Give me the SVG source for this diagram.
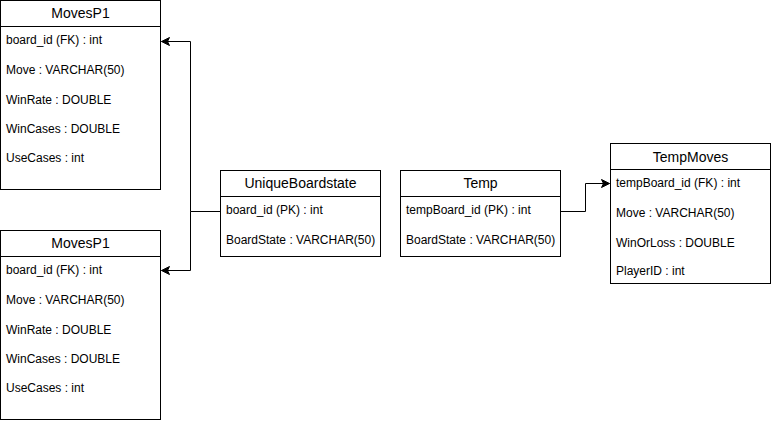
<svg xmlns="http://www.w3.org/2000/svg" width="771" height="424" viewBox="0 0 771 424">
<style>
.box{fill:#fff;stroke:#000;stroke-width:1}
.ln{stroke:#000;stroke-width:1;fill:none}
.h{font-family:"Liberation Sans",Arial,sans-serif;font-size:14px;text-anchor:middle;fill:#000}
.r{font-family:"Liberation Sans",Arial,sans-serif;font-size:12px;fill:#000}
</style>
<defs>
<marker id="arr" viewBox="0 0 10 10" refX="9" refY="5" markerWidth="10" markerHeight="10" markerUnits="userSpaceOnUse" orient="auto">
<path d="M1,1 L9,5 L1,9 L3,5 Z" fill="#000" stroke="#000" stroke-width="1"/>
</marker>
</defs>
<rect width="771" height="424" fill="#fff"/>
<g id="connectors">
<path class="ln" d="M220.5,211.5 H190.5 V41.5 H161.5" marker-end="url(#arr)"/>
<path class="ln" d="M190.5,211.5 V270.5 H161.5" marker-end="url(#arr)"/>
<path class="ln" d="M560.5,211.5 H585.5 V183.5 H609.5" marker-end="url(#arr)"/>
</g>
<g id="movesp1-top">
<rect class="box" x="0.5" y="0.5" width="160" height="189"/>
<line class="ln" x1="0.5" y1="26.5" x2="160.5" y2="26.5"/>
<text class="h" x="80.5" y="18">MovesP1</text>
<text class="r" x="6" y="44">board_id (FK) : int</text>
<text class="r" x="6" y="74">Move : VARCHAR(50)</text>
<text class="r" x="6" y="104">WinRate : DOUBLE</text>
<text class="r" x="6" y="133">WinCases : DOUBLE</text>
<text class="r" x="6" y="162">UseCases : int</text>
</g>
<g id="movesp1-bottom">
<rect class="box" x="0.5" y="230.5" width="160" height="189"/>
<line class="ln" x1="0.5" y1="256.5" x2="160.5" y2="256.5"/>
<text class="h" x="80.5" y="248">MovesP1</text>
<text class="r" x="6" y="274">board_id (FK) : int</text>
<text class="r" x="6" y="304">Move : VARCHAR(50)</text>
<text class="r" x="6" y="334">WinRate : DOUBLE</text>
<text class="r" x="6" y="363">WinCases : DOUBLE</text>
<text class="r" x="6" y="392">UseCases : int</text>
</g>
<g id="uniqueboardstate">
<rect class="box" x="220.5" y="170.5" width="160" height="86"/>
<line class="ln" x1="220.5" y1="196.5" x2="380.5" y2="196.5"/>
<text class="h" x="300.5" y="188">UniqueBoardstate</text>
<text class="r" x="226" y="214">board_id (PK) : int</text>
<text class="r" x="226" y="244">BoardState : VARCHAR(50)</text>
</g>
<g id="temp">
<rect class="box" x="400.5" y="170.5" width="160" height="86"/>
<line class="ln" x1="400.5" y1="196.5" x2="560.5" y2="196.5"/>
<text class="h" x="480.5" y="188">Temp</text>
<text class="r" x="406" y="214">tempBoard_id (PK) : int</text>
<text class="r" x="406" y="244">BoardState : VARCHAR(50)</text>
</g>
<g id="tempmoves">
<rect class="box" x="610.5" y="143.5" width="160" height="140"/>
<line class="ln" x1="610.5" y1="169.5" x2="770.5" y2="169.5"/>
<text class="h" x="690.5" y="162">TempMoves</text>
<text class="r" x="616" y="187">tempBoard_id (FK) : int</text>
<text class="r" x="616" y="217">Move : VARCHAR(50)</text>
<text class="r" x="616" y="247">WinOrLoss : DOUBLE</text>
<text class="r" x="616" y="275">PlayerID : int</text>
</g>
</svg>
